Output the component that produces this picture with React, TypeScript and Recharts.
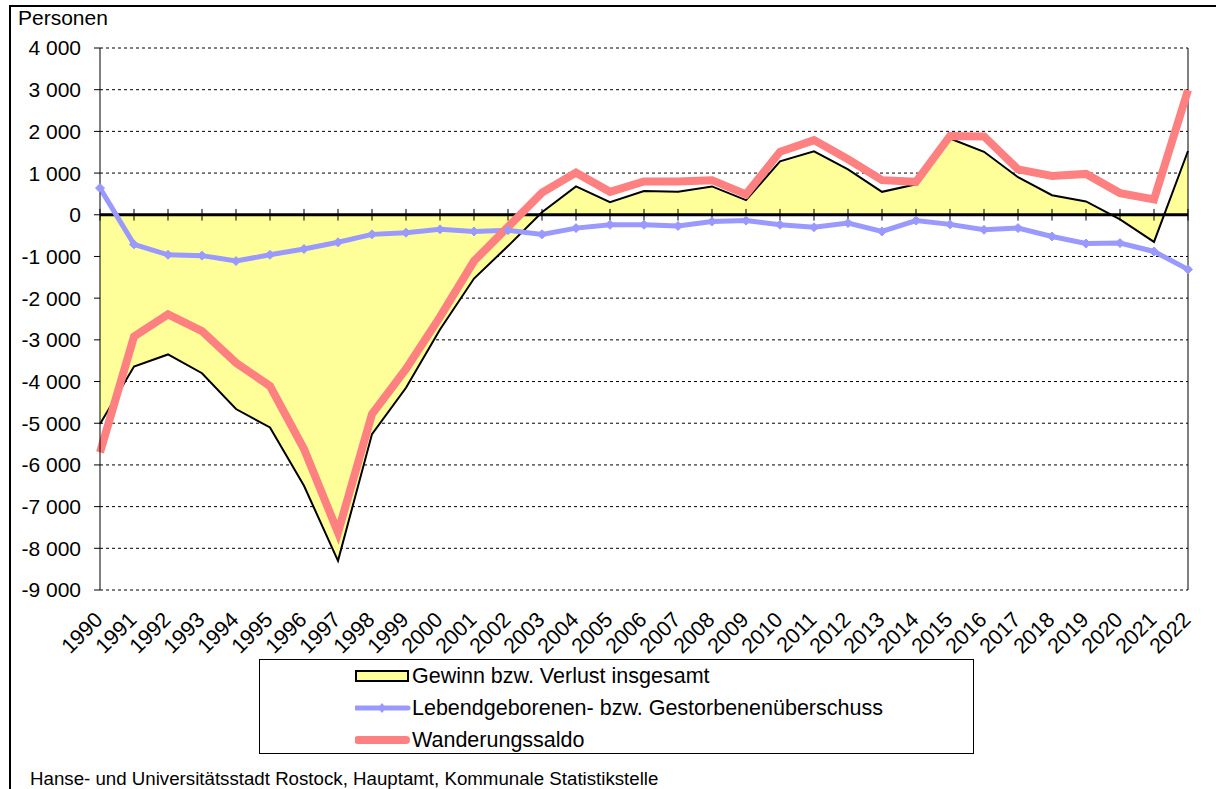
import React from 'react'
import { ComposedChart, Area, Line, XAxis, YAxis, CartesianGrid, ReferenceLine } from 'recharts'

const years = [
    1990, 1991, 1992, 1993, 1994, 1995, 1996, 1997, 1998, 1999, 2000,
    2001, 2002, 2003, 2004, 2005, 2006, 2007, 2008, 2009, 2010, 2011,
    2012, 2013, 2014, 2015, 2016, 2017, 2018, 2019, 2020, 2021, 2022,
]

// Gewinn bzw. Verlust insgesamt
const gesamt = [
    -5020, -3640, -3350, -3800, -4660, -5100, -6500, -8300, -5260, -4150, -2750,
    -1530, -750, 60, 680, 300, 570, 550, 680, 350, 1280, 1520,
    1090, 550, 730, 1830, 1510, 900, 470, 320, -110, -650, 1530,
]

// Lebendgeborenen- bzw. Gestorbenenüberschuss
const natuerlich = [
    640, -710, -960, -980, -1110, -960, -820, -660, -470, -430, -350,
    -400, -370, -470, -320, -240, -240, -270, -160, -140, -240, -300,
    -200, -400, -140, -230, -360, -320, -520, -690, -680, -880, -1310,
]

// Wanderungssaldo
const wanderung = [
    -5700, -2920, -2390, -2790, -3550, -4110, -5620, -7620, -4780, -3700, -2450,
    -1110, -290, 530, 1010, 550, 800, 800, 830, 490, 1510, 1790,
    1330, 830, 790, 1890, 1880, 1090, 930, 980, 520, 370, 2990,
]

const yTicks = [4000, 3000, 2000, 1000, 0, -1000, -2000, -3000, -4000, -5000, -6000, -7000, -8000, -9000]

const data = years.map((year, i) => ({
    year,
    gesamt: gesamt[i],
    natuerlich: natuerlich[i],
    wanderung: wanderung[i],
}))

const FONT = '"Liberation Sans", Arial, sans-serif'

function formatNumber(v: number) {
    const s = String(Math.abs(v)).replace(/\B(?=(\d{3})+(?!\d))/g, ' ')
    return v < 0 ? `-${s}` : s
}

function YearTick({ x, y, payload }: any) {
    const ax = x + 4
    const ay = y + 31
    return (
        <text
            x={ax}
            y={ay}
            textAnchor="end"
            transform={`rotate(-45, ${ax}, ${ay})`}
            style={{ fontSize: 21.5, fontFamily: FONT }}
            fill="#000"
        >
            {payload.value}
        </text>
    )
}

function Diamond({ cx, cy, index }: any) {
    if (cx == null || cy == null) return null
    const r = 4.5
    return (
        <polygon
            key={`d-${index}`}
            points={`${cx},${cy - r} ${cx + r},${cy} ${cx},${cy + r} ${cx - r},${cy}`}
            fill="#9999FF"
            stroke="#9999FF"
        />
    )
}

function LegendBox() {
    const rows = [
        { label: 'Gewinn bzw. Verlust insgesamt', kind: 'area' },
        { label: 'Lebendgeborenen- bzw. Gestorbenenüberschuss', kind: 'blue' },
        { label: 'Wanderungssaldo', kind: 'red' },
    ]
    return (
        <div
            style={{
                position: 'absolute',
                left: 259,
                top: 659,
                width: 713,
                height: 93,
                border: '1px solid #000',
                background: '#fff',
                fontFamily: FONT,
                fontSize: 21.5,
            }}
        >
            {rows.map((r, i) => (
                <div
                    key={r.label}
                    style={{
                        position: 'absolute',
                        left: 95,
                        top: 1 + i * 32,
                        height: 30,
                        display: 'flex',
                        alignItems: 'center',
                        whiteSpace: 'nowrap',
                    }}
                >
                    <svg width={56} height={14} style={{ marginRight: 1 }}>
                        {r.kind === 'area' && (
                            <rect x={1} y={2} width={52} height={10} fill="#FFFF99" stroke="#000" strokeWidth={2} />
                        )}
                        {r.kind === 'blue' && (
                            <g>
                                <line x1={1} y1={7} x2={53} y2={7} stroke="#9999FF" strokeWidth={5} strokeLinecap="round" />
                                <polygon points="27,2 31,7 27,12 23,7" fill="#9999FF" />
                            </g>
                        )}
                        {r.kind === 'red' && (
                            <line x1={3} y1={7} x2={51} y2={7} stroke="#FF8080" strokeWidth={8} strokeLinecap="round" />
                        )}
                    </svg>
                    <span>{r.label}</span>
                </div>
            ))}
        </div>
    )
}

export default function App() {
    return (
        <div
            style={{
                position: 'absolute',
                left: 0,
                top: 0,
                width: 1216,
                height: 789,
                overflow: 'hidden',
                background: '#fff',
                fontFamily: FONT,
            }}
        >
            <div
                style={{
                    position: 'absolute',
                    left: 9,
                    top: 5,
                    width: 1240,
                    height: 820,
                    border: '2px solid #000',
                }}
            />
            <div style={{ position: 'absolute', left: 18, top: 6, fontSize: 21, color: '#000' }}>Personen</div>
            <div style={{ position: 'absolute', left: 0, top: 0 }}>
                <ComposedChart
                    width={1216}
                    height={789}
                    data={data}
                    margin={{ top: 48, right: 28, bottom: 0, left: 0 }}
                >
                    <CartesianGrid vertical={false} stroke="#000" strokeDasharray="3 3" strokeWidth={1} />
                    <XAxis
                        dataKey="year"
                        type="number"
                        domain={[1990, 2022]}
                        ticks={years}
                        interval={0}
                        axisLine={false}
                        tickLine={false}
                        tickSize={0}
                        tickMargin={0}
                        height={199}
                        tick={<YearTick />}
                    />
                    <YAxis
                        type="number"
                        domain={[-9000, 4000]}
                        ticks={yTicks}
                        interval={0}
                        width={100}
                        axisLine={{ stroke: '#000', strokeWidth: 1 }}
                        tickLine={{ stroke: '#000', strokeWidth: 1 }}
                        tickSize={6}
                        tickMargin={13}
                        tickFormatter={formatNumber}
                        tick={{ fill: '#000', fontSize: 21, fontFamily: FONT }}
                    />
                    <Area
                        dataKey="gesamt"
                        type="linear"
                        baseValue={0}
                        fill="#FFFF99"
                        fillOpacity={1}
                        stroke="#000"
                        strokeWidth={2}
                        isAnimationActive={false}
                    />
                    <ReferenceLine x={2022} stroke="#000" strokeWidth={1} />
                    <ReferenceLine y={0} stroke="#000" strokeWidth={3} />
                    {years.map((yr) => (
                        <ReferenceLine
                            key={`t-${yr}`}
                            segment={[{ x: yr, y: -140 }, { x: yr, y: 140 }]}
                            stroke="#000"
                            strokeWidth={1}
                        />
                    ))}
                    <Line
                        dataKey="natuerlich"
                        type="linear"
                        stroke="#9999FF"
                        strokeWidth={5}
                        dot={<Diamond />}
                        activeDot={false}
                        isAnimationActive={false}
                    />
                    <Line
                        dataKey="wanderung"
                        type="linear"
                        stroke="#FF8080"
                        strokeWidth={8}
                        dot={false}
                        activeDot={false}
                        isAnimationActive={false}
                    />
                </ComposedChart>
            </div>
            <LegendBox />
            <div style={{ position: 'absolute', left: 30, top: 768, fontSize: 18.7, color: '#000', whiteSpace: 'nowrap' }}>
                Hanse- und Universitätsstadt Rostock, Hauptamt, Kommunale Statistikstelle
            </div>
        </div>
    )
}
